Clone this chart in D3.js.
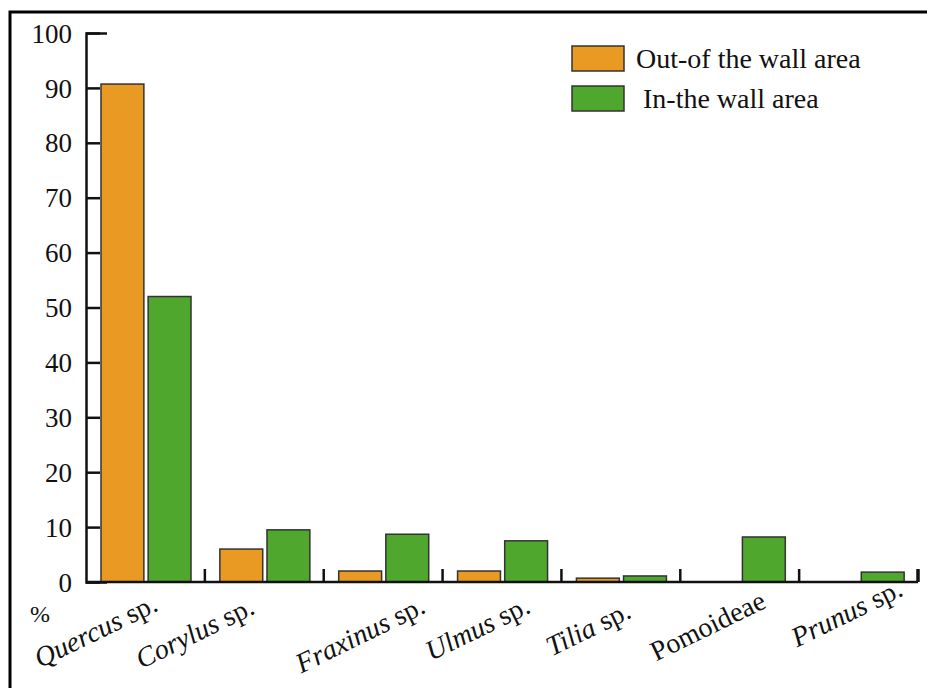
<!DOCTYPE html>
<html>
<head>
<meta charset="utf-8">
<script src="https://cdn.jsdelivr.net/npm/d3@7"></script>
<style>
  body { margin: 0; background: #fff; }
  svg text { font-family: "Liberation Serif", "Times New Roman", "DejaVu Serif", serif; }
</style>
</head>
<body>
<svg id="chart" width="927" height="688"></svg>
<script>
// data
const genus = ["Quercus", "Corylus", "Fraxinus", "Ulmus", "Tilia", "Pomoideae", "Prunus"];
const suffix = [" sp.", " sp.", " sp.", " sp.", " sp.", "", " sp."];
const italic = [true, true, true, true, true, false, true];
const outWall = [90.7, 6.0, 2.0, 2.0, 0.7, 0, 0];
const inWall = [52.0, 9.5, 8.7, 7.5, 1.1, 8.2, 1.8];
const yTicks = [0, 10, 20, 30, 40, 50, 60, 70, 80, 90, 100];
const seriesNames = ["Out-of the wall area", " In-the wall area"];
const colors = ["#e89a22", "#4fa72e"];

// label nudges (label end relative to band centre)
const labelNudge = [[14, 28], [-8, 31], [44, 30], [30, 30], [12, 35], [28, 25], [46, 13]];

const svg = d3.select("#chart");
const mLeft = 86, mRight = 918, mTop = 33, mBottom = 582;

// outer frame
svg.append("path")
  .attr("d", "M10,1000V12H1000")
  .attr("fill", "none")
  .attr("stroke", "#000")
  .attr("stroke-width", 3);

const x = d3.scaleBand().domain(genus).range([mLeft, mRight]).padding(0);
const xSub = d3.scaleBand().domain([0, 1]).range([15, 105]).paddingInner(0.09);
const y = d3.scaleLinear().domain([0, 100]).range([mBottom, mTop]);

const rows = genus.map((g, i) => ({ g, vals: [outWall[i], inWall[i]] }));

// bars
const grp = svg.append("g").selectAll("g")
  .data(rows)
  .join("g")
  .attr("transform", d => `translate(${x(d.g)},0)`);

grp.selectAll("rect")
  .data(d => d.vals.map((v, s) => ({ v, s })).filter(e => e.v > 0))
  .join("rect")
  .attr("x", e => xSub(e.s))
  .attr("width", xSub.bandwidth())
  .attr("y", e => y(e.v))
  .attr("height", e => y(0) - y(e.v))
  .attr("fill", e => colors[e.s])
  .attr("stroke", "#333")
  .attr("stroke-width", 1.5);

// y axis
const yAxis = svg.append("g")
  .attr("transform", `translate(${mLeft},0)`)
  .call(d3.axisLeft(y).tickValues(yTicks).tickSizeInner(-14).tickSizeOuter(-21).tickPadding(14))
  .attr("font-family", null);
yAxis.selectAll("path, line").attr("stroke", "#111").attr("stroke-width", 2.5);
yAxis.selectAll("text")
  .attr("fill", "#111")
  .attr("dy", "0.34em")
  .style("font-size", "27px");

// x axis
svg.append("line")
  .attr("x1", mLeft).attr("x2", mRight)
  .attr("y1", y(0)).attr("y2", y(0))
  .attr("stroke", "#111").attr("stroke-width", 2.5);

svg.append("g").selectAll("line")
  .data(genus)
  .join("line")
  .attr("x1", d => x(d) + x.bandwidth())
  .attr("x2", d => x(d) + x.bandwidth())
  .attr("y1", y(0))
  .attr("y2", y(0) - 13)
  .attr("stroke", "#111")
  .attr("stroke-width", (d, i) => i === genus.length - 1 ? 3.5 : 2.5);

// category labels
const lab = svg.append("g").selectAll("text")
  .data(genus)
  .join("text")
  .attr("text-anchor", "end")
  .attr("transform", (d, i) => {
    const cx = x(d) + x.bandwidth() / 2 + labelNudge[i][0];
    const cy = y(0) + labelNudge[i][1];
    return `translate(${cx},${cy}) rotate(-26)`;
  })
  .style("font-size", "28px")
  .attr("fill", "#111");

lab.append("tspan")
  .style("font-style", (d, i) => italic[i] ? "italic" : "normal")
  .text(d => d);
lab.append("tspan")
  .text((d, i) => suffix[i]);

// % label
svg.append("text")
  .attr("x", 30).attr("y", 622)
  .style("font-size", "24px")
  .attr("fill", "#111")
  .text("%");

// legend
const leg = svg.append("g").selectAll("g")
  .data(seriesNames)
  .join("g")
  .attr("transform", (d, i) => `translate(572,${46 + i * 40})`);
leg.append("rect")
  .attr("width", 52).attr("height", 25)
  .attr("fill", (d, i) => colors[i])
  .attr("stroke", "#333").attr("stroke-width", 1.5);
leg.append("text")
  .attr("x", 64).attr("y", 22)
  .attr("xml:space", "preserve")
  .style("white-space", "pre")
  .style("font-size", "28px")
  .attr("fill", "#111")
  .text(d => d);
</script>
</body>
</html>
